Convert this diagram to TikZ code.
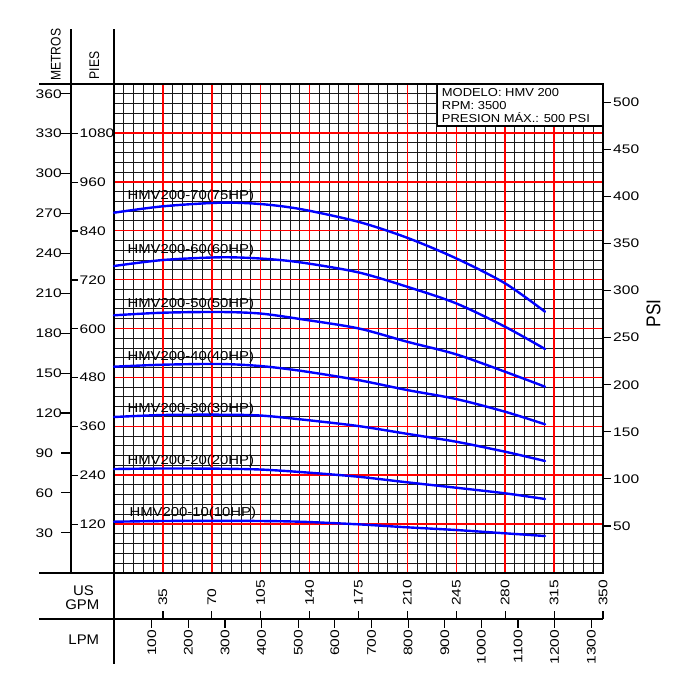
\documentclass[tikz,border=0pt]{standalone}
\usepackage{fontspec}
\setmainfont{Liberation Sans}
\newfontfamily\numf{Liberation Sans}[FakeStretch=1.25]
\newfontfamily\labf{Liberation Sans}[FakeStretch=1.15]
\newfontfamily\legf{Liberation Sans}[FakeStretch=1.12]
\newfontfamily\narf{Liberation Sans}[FakeStretch=0.87]
\newfontfamily\midf{Liberation Sans}[FakeStretch=1.07]
\begin{document}
\begin{tikzpicture}[x=1bp,y=-1bp,
  gridline/.style={black!90, line width=1bp},
  redline/.style={red, line width=1.5bp},
  axisline/.style={black, line width=1.3bp},
  tickline/.style={black, line width=1.2bp},
  curve/.style={blue, line width=2.4bp, line join=round, line cap=round},
  numlab/.style={inner sep=0pt, font=\numf\fontsize{12.5}{12.5}\selectfont},
  curvelab/.style={inner sep=0pt, anchor=base west, font=\labf\fontsize{13}{13}\selectfont},
  leglab/.style={inner sep=0pt, anchor=base west, font=\legf\fontsize{11.6}{11.6}\selectfont},
  titlelab/.style={inner sep=0pt, font=\narf\fontsize{14}{14}\selectfont},
  unitlab/.style={inner sep=0pt, font=\midf\fontsize{14}{14}\selectfont}
]
\useasboundingbox[fill=white] (0,0) rectangle (684,690);

% black grid (every fifth line is red)
\foreach \i in {1,...,49} {
  \pgfmathtruncatemacro\keep{mod(\i,5)}
  \ifnum\keep>0
    \pgfmathsetmacro\gx{114+\i*9.78}
    \pgfmathsetmacro\gy{573-\i*9.78}
    \draw[gridline] (\gx,84) -- (\gx,573);
    \draw[gridline] (114,\gy) -- (603,\gy);
  \fi
}
% red grid
\foreach \rx in {162.9,211.8,260.7,309.6,358.5,407.4,456.3,505.2,554.1} {
  \draw[redline] (\rx,84) -- (\rx,573);
}
\foreach \ry in {132.9,181.8,230.7,279.6,328.5,377.4,426.3,475.2,524.1} {
  \draw[redline] (114,\ry) -- (603,\ry);
}

% legend box
\draw[fill=white, line width=1.2bp] (437.3,84) rectangle (603,126);
\node[leglab] (legA) at (441.7,96.6) {MODELO: HMV 200};
\node[leglab] (legB) at (441.7,109.4) {RPM: 3500};
\node[leglab] (legC) at (441.7,122.8) {PRESION MÁX.: 500 PSI};

% frame and axes
\draw[axisline] (114,84) rectangle (603,573);
\draw[axisline] (71,29.3) -- (71,573);
\draw[axisline] (114,29.3) -- (114,664);
\draw[axisline] (39,84) -- (114,84);
\draw[axisline] (39,573) -- (603,573);
\draw[axisline] (39,619) -- (603,619);

% meters
\foreach \m in {30,60,...,360} {
  \pgfmathsetmacro\my{572.7-\m*1.3303}
  \draw[tickline] (61,\my) -- (71,\my);
  \node[numlab, anchor=west] (m\m) at (35.5,\my) {\m};
}
% feet
\foreach \f in {120,240,...,1080} {
  \pgfmathsetmacro\fy{573.2-\f*0.4073}
  \draw[tickline] (71,\fy) -- (78,\fy);
  \node[numlab, anchor=west] (f\f) at (79.5,\fy) {\f};
}
% psi
\foreach \p in {50,100,...,500} {
  \pgfmathsetmacro\py{573-\p*0.9414}
  \draw[tickline] (603,\py) -- (611,\py);
  \node[numlab, anchor=west] (p\p) at (613,\py) {\p};
}
% gpm
\foreach \g in {35,70,...,350} {
  \pgfmathsetmacro\tx{114+\g*1.39714}
  \draw[tickline] (\tx,611) -- (\tx,619);
  \node[numlab, anchor=west, rotate=90] (g\g) at (\tx,606) {\g};
}
% lpm
\foreach \l in {100,200,...,1300} {
  \pgfmathsetmacro\lx{115.1+\l*0.3663}
  \draw[tickline] (\lx,619) -- (\lx,628);
  \node[numlab, anchor=east, rotate=90] (l\l) at (\lx,629.5) {\l};
}

% axis titles
\node[titlelab, rotate=90] (metros) at (55.8,54.7) {METROS};
\node[titlelab, rotate=90] (pies) at (94.3,65.3) {PIES};
\node[inner sep=0pt, rotate=90, font=\narf\fontsize{20}{20}\selectfont] (psi) at (653.5,313.3) {PSI};
\node[unitlab] (us) at (83.5,590.3) {US};
\node[unitlab] (gpm) at (82.3,605) {GPM};
\node[unitlab] (lpm) at (83.8,640) {LPM};

% curves
\draw[curve] plot[smooth] coordinates {(114,212.7) (163,206.3) (220,202.7) (260,204) (300,209) (358,221.7) (407,237.7) (456,258.3) (505,283.3) (545,311.7)};
\draw[curve] plot[smooth] coordinates {(114,266) (163,260) (220,257.3) (260,258.5) (300,262.3) (358,272.3) (407,286.7) (456,303.3) (505,326.7) (545,349)};
\draw[curve] plot[smooth] coordinates {(114,315.3) (163,312.7) (220,312) (260,313.5) (300,319) (358,328.3) (407,341.7) (456,354.3) (505,371.7) (545,386.7)};
\draw[curve] plot[smooth] coordinates {(114,366.7) (163,364.7) (220,364) (260,366) (300,370.7) (358,380) (407,390) (456,399) (505,411.7) (545,424.3)};
\draw[curve] plot[smooth] coordinates {(114,417) (163,415) (220,414.7) (260,415.5) (300,419.3) (358,426) (407,433.8) (456,441.7) (505,451.7) (545,461)};
\draw[curve] plot[smooth] coordinates {(114,469) (163,468.5) (220,468.7) (260,469.5) (300,472) (358,476.7) (407,482.3) (456,487.7) (505,493.3) (545,499)};
\draw[curve] plot[smooth] coordinates {(114,521.7) (163,521) (220,520.8) (260,521) (300,521.7) (358,524.3) (407,527.3) (456,530) (505,533.3) (545,536)};

% curve labels
\node[curvelab] (c70) at (127.3,199.3) {HMV200-70(75HP)};
\node[curvelab] (c60) at (127.3,253.3) {HMV200-60(60HP)};
\node[curvelab] (c50) at (127.3,307.6) {HMV200-50(50HP)};
\node[curvelab] (c40) at (127.3,360.5) {HMV200-40(40HP)};
\node[curvelab] (c30) at (127.3,412.2) {HMV200-30(30HP)};
\node[curvelab] (c20) at (127.3,464.5) {HMV200-20(20HP)};
\node[curvelab] (c10) at (129.3,516.8) {HMV200-10(10HP)};
\end{tikzpicture}
\end{document}
